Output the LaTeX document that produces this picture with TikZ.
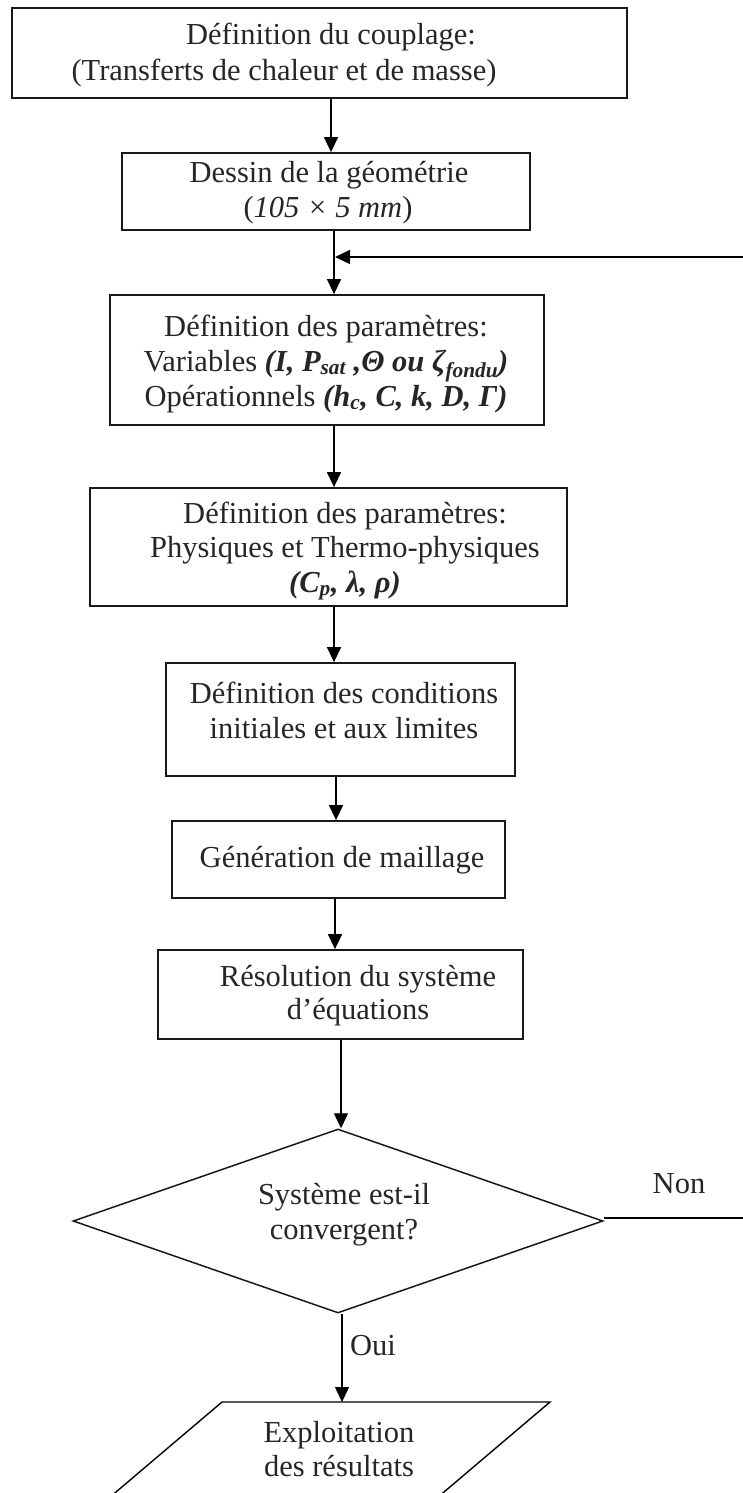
\documentclass[tikz,border=0pt]{standalone}
\usepackage{fontspec}
\setmainfont{Liberation Serif}
\usetikzlibrary{arrows.meta,shapes.geometric}
\begin{document}
\begin{tikzpicture}[x=1pt,y=-1pt,
  box/.style={draw=black!90, line width=1.8pt, inner sep=0pt},
  dia/.style={draw=black!90, diamond, line width=1.5pt, inner sep=0pt},
  txt/.style={anchor=base, inner sep=0pt, font=\fontsize{30.5}{36}\selectfont, text=black!85},
  link/.style={line width=1.4pt, draw=black},
  arr/.style={link, -{Triangle[length=15pt,width=14pt]}},
  ]
\useasboundingbox[fill=white] (0,0) rectangle (743,1493);
\clip (0,0) rectangle (743,1493);

% boxes
\node[box, minimum width=615pt, minimum height=90pt]  (b1) at (319.5,53) {};
\node[box, minimum width=408pt, minimum height=77pt]  (b2) at (326,191.5) {};
\node[box, minimum width=434pt, minimum height=130pt] (b3) at (327,360) {};
\node[box, minimum width=477pt, minimum height=118pt] (b4) at (328.5,547) {};
\node[box, minimum width=349pt, minimum height=113pt] (b5) at (340.5,719.5) {};
\node[box, minimum width=333pt, minimum height=77pt]  (b6) at (338.5,859.5) {};
\node[box, minimum width=365pt, minimum height=89pt]  (b7) at (340.5,994.5) {};
\node[dia, minimum width=530pt, minimum height=184pt] (d) at (338,1221) {};

% parallelogram (bottom cut by the page)
\coordinate (pTL) at (222,1402);
\coordinate (pTR) at (550,1402);
\coordinate (pBL) at (83,1520);
\coordinate (pBR) at (411,1520);
\draw[link] (pBL) -- (pTL) -- (pTR) -- (pBR) -- cycle;

% texts
\node[txt] (t1a) at (331,45) {Définition du couplage:};
\node[txt] (t1b) at (284,81) {(Transferts de chaleur et de masse)};
\node[txt] (t2a) at (329,182) {Dessin de la géométrie};
\node[txt] (t2b) at (328,217) {(\textit{105 × 5 mm})};
\node[txt] (t3a) at (326,336) {Définition des paramètres:};
\node[txt] (t3b) at (326,371) {Variables \textbf{\textit{(I, P\textsubscript{sat} ,Θ ou ζ\textsubscript{fondu})}}};
\node[txt] (t3c) at (326,406) {Opérationnels \textbf{\textit{(h\textsubscript{c}, C, k, D, Γ)}}};
\node[txt] (t4a) at (345,523) {Définition des paramètres:};
\node[txt] (t4b) at (345,557) {Physiques et Thermo-physiques};
\node[txt] (t4c) at (345,592) {\textbf{\textit{(C\textsubscript{p}, λ, ρ)}}};
\node[txt] (t5a) at (344,703) {Définition des conditions};
\node[txt] (t5b) at (344,738) {initiales et aux limites};
\node[txt] (t6)  at (342,867) {Génération de maillage};
\node[txt] (t7a) at (358,986) {Résolution du système};
\node[txt] (t7b) at (358,1019) {d’équations};
\node[txt] (tda) at (344,1204) {Système est-il};
\node[txt] (tdb) at (344,1239) {convergent?};
\node[txt] (non) at (679,1193) {Non};
\node[txt] (oui) at (373,1355) {Oui};
\node[txt] (tpa) at (339,1442) {Exploitation};
\node[txt] (tpb) at (339,1476) {des résultats};

% connector columns
\coordinate (x1) at (331,0);
\coordinate (x2) at (334,0);
\coordinate (x5) at (336,0);
\coordinate (x6) at (335,0);
\coordinate (x7) at (341,0);
\coordinate (x8) at (342,0);

\draw[arr] (b1.south -| x1) -- (b2.north -| x1);
\draw[arr] (b2.south -| x2) -- (b3.north -| x2);
\draw[arr] (b3.south -| x2) -- (b4.north -| x2);
\draw[arr] (b4.south -| x2) -- (b5.north -| x2);
\draw[arr] (b5.south -| x5) -- (b6.north -| x5);
\draw[arr] (b6.south -| x6) -- (b7.north -| x6);
\draw[arr] (b7.south -| x7) -- (d.north -| x7);
\draw[arr] (d.south -| x8) -- (pTL -| x8);

% loop back (continues outside the page)
\coordinate (fbR) at (746,257);
\coordinate (fbL) at (335,257);
\draw[arr] (fbR) -- (fbL);
\coordinate (nonR) at (746,1218);
\draw[link] (d.east |- nonR) -- (nonR);
\end{tikzpicture}
\end{document}
